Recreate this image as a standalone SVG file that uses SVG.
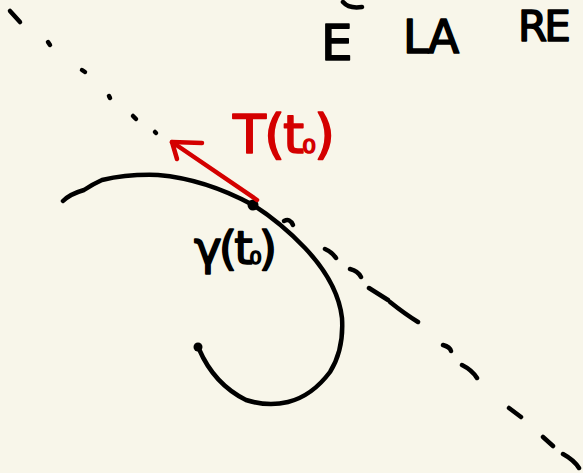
<svg xmlns="http://www.w3.org/2000/svg" width="583" height="473" viewBox="0 0 583 473">
<style>
.ink{fill:none;stroke:#000;stroke-width:4.5;stroke-linecap:round;stroke-linejoin:round}
.red{fill:none;stroke:#d40000;stroke-width:4.5;stroke-linecap:round;stroke-linejoin:round}
.hand{font-family:"DejaVu Sans","Liberation Sans",sans-serif;stroke-width:1.6;stroke-linejoin:round}
.hb{fill:#000;stroke:#000}
.hr{fill:#d40000;stroke:#d40000}
</style>
<rect width="583" height="473" fill="#f8f6ea"/>
<g id="header">
<path class="ink" d="M343,2 Q349,9 362,7"/>
<text class="hand hb" x="321" y="60" font-size="50">E</text>
<text class="hand hb" x="403" y="53" font-size="46" letter-spacing="-2">LA</text>
<text class="hand hb" x="518" y="41" font-size="42" letter-spacing="-3">RE</text>
</g>
<g id="tangent-line">
<path class="ink" d="M10,11 L20,22"/>
<path class="ink" d="M48,42 L50,45 M82,70 L85,72 M109,96 L110,98 M133,116 L136,119 M155,132 L156,133"/>
<path class="ink" d="M325,249 Q332,252 336,258 M350,269 Q358,271 361,277 M369,288 L388,300 M390,302 Q405,314 418,322 M443,345 Q450,347 451,351 M462,365 Q472,370 477,378 M509,408 L521,417 M543,437 L553,446 M563,454 Q574,460 579,468"/>
</g>
<g id="curve">
<path class="ink" d="M63,201 Q70,194 84,190 Q93,184 102,180 Q128,174 158,175 Q205,179 253,205 Q280,222 305,248 Q338,283 342,318 Q344,350 330,372 Q312,396 288,402 Q268,407 246,400 Q214,384 199,349"/>
<circle cx="198" cy="347" r="4.5" fill="#000"/>
<circle cx="253" cy="205" r="5.5" fill="#000"/>
<path class="ink" d="M284,221 Q290,218 293,225"/>
</g>
<g id="gamma-label">
<text class="hand hb" x="194" y="264" font-size="47" letter-spacing="-3">γ(t<tspan font-size="30">₀</tspan>)</text>
</g>
<g id="tangent-vector">
<path class="red" d="M257,200 L172,142"/>
<path class="red" d="M202,143 L172,142 L177,159"/>
<text class="hand hr" x="233" y="153" font-size="54" letter-spacing="-2">T(t<tspan font-size="34">₀</tspan>)</text>
</g>
</svg>
